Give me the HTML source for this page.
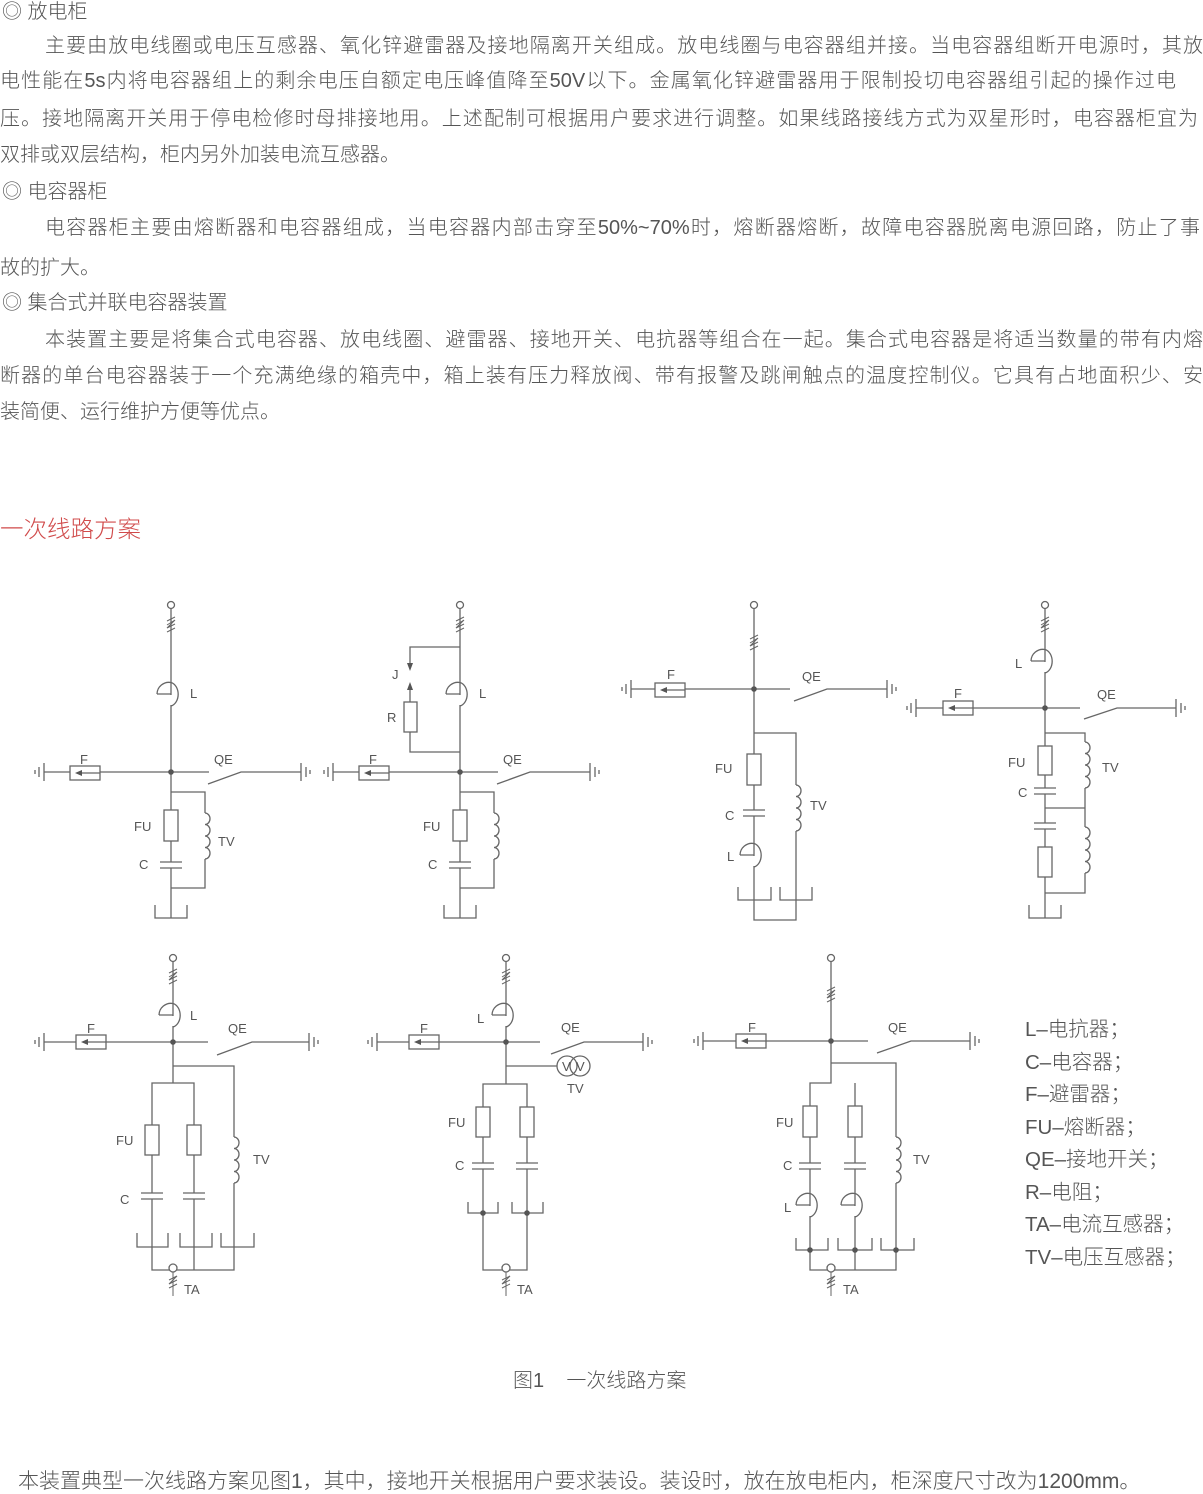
<!DOCTYPE html>
<html><head><meta charset="utf-8">
<style>
html,body{margin:0;padding:0;background:#fff;}
body{width:1203px;height:1493px;position:relative;overflow:hidden;font-family:"Liberation Sans","Noto Sans CJK SC",sans-serif;color:#555;}
.t{position:absolute;font-size:20px;line-height:24px;white-space:nowrap;font-weight:300;}
.j{text-align:justify;text-align-last:justify;white-space:normal;}
svg{position:absolute;left:0;top:0;}
svg text{font-family:"Liberation Sans",sans-serif;font-size:13px;fill:#555;stroke:none;}
</style></head><body>
<div class="t" style="left:2px;top:0px;">◎ 放电柜</div>
<div class="t j" style="left:45px;top:34px;width:1158px;">主要由放电线圈或电压互感器、氧化锌避雷器及接地隔离开关组成。放电线圈与电容器组并接。当电容器组断开电源时，其放</div>
<div class="t j" style="left:0px;top:69px;width:1176px;">电性能在5s内将电容器组上的剩余电压自额定电压峰值降至50V以下。金属氧化锌避雷器用于限制投切电容器组引起的操作过电</div>
<div class="t j" style="left:0px;top:107px;width:1198px;">压。接地隔离开关用于停电检修时母排接地用。上述配制可根据用户要求进行调整。如果线路接线方式为双星形时，电容器柜宜为</div>
<div class="t" style="left:0px;top:143px;">双排或双层结构，柜内另外加装电流互感器。</div>
<div class="t" style="left:2px;top:180px;">◎ 电容器柜</div>
<div class="t j" style="left:45px;top:216px;width:1155px;">电容器柜主要由熔断器和电容器组成，当电容器内部击穿至50%~70%时，熔断器熔断，故障电容器脱离电源回路，防止了事</div>
<div class="t" style="left:0px;top:256px;">故的扩大。</div>
<div class="t" style="left:2px;top:291px;">◎ 集合式并联电容器装置</div>
<div class="t j" style="left:45px;top:328px;width:1158px;">本装置主要是将集合式电容器、放电线圈、避雷器、接地开关、电抗器等组合在一起。集合式电容器是将适当数量的带有内熔</div>
<div class="t j" style="left:0px;top:364px;width:1203px;">断器的单台电容器装于一个充满绝缘的箱壳中，箱上装有压力释放阀、带有报警及跳闸触点的温度控制仪。它具有占地面积少、安</div>
<div class="t" style="left:0px;top:400px;">装简便、运行维护方便等优点。</div>
<div class="t" style="left:0px;top:515px;font-size:23.5px;line-height:28px;color:#d04a4a;">一次线路方案</div>
<div class="t" style="left:513px;top:1369px;font-size:20px;">图1&nbsp;&nbsp;&nbsp;&nbsp;一次线路方案</div>
<div class="t" style="left:18px;top:1470px;font-size:21px;">本装置典型一次线路方案见图1，其中，接地开关根据用户要求装设。装设时，放在放电柜内，柜深度尺寸改为1200mm。</div>
<div class="t" style="left:1025px;top:1014px;font-size:20.5px;line-height:32.5px;white-space:pre;">L–电抗器；
C–电容器；
F–避雷器；
FU–熔断器；
QE–接地开关；
R–电阻；
TA–电流互感器；
TV–电压互感器；</div>

<svg width="1203" height="1493" viewBox="0 0 1203 1493" fill="none" stroke="#666" stroke-width="1.3">
<defs>
<g id="gl"><path d="M0,-9V9M-5,-5V5M-9,-2V2"/></g>
<g id="gr"><path d="M0,-9V9M5,-5V5M9,-2V2"/></g>
<g id="zz"><path d="M-4,-3L4,-7M-4,1L4,-4L-4,4L4,0M-4,8L4,4" stroke-width="1"/></g>
<g id="L"><rect x="-2" y="13" width="4" height="10" fill="#fff" stroke="none"/><path d="M-14,12H0M-14,12A12,12 0 0 1 0,0.5A9,12 0 0 1 0,24"/></g>
<g id="cap"><rect x="-11" y="-3" width="22" height="6" fill="#fff" stroke="none"/><path d="M-11,-3H11M-11,3H11"/></g>
<g id="fbox"><rect x="0" y="-7" width="30" height="14" fill="#fff"/><path d="M9,0H30"/><polygon points="5,0 12,-3 12,3" fill="#555" stroke="none"/></g>
<g id="dot"><circle r="2.8" fill="#555" stroke="none"/></g>
<g id="top"><circle r="3.5" fill="#fff"/></g>
<g id="coil4"><rect x="-2" y="0" width="4" height="46" fill="#fff" stroke="none"/><path d="M0,0a5,5.75 0 0 1 0,11.5a5,5.75 0 0 1 0,11.5a5,5.75 0 0 1 0,11.5a5,5.75 0 0 1 0,11.5"/></g>
<g id="ta"><circle r="4" fill="#fff"/><path d="M0,4V28M-4,12L4,8L-4,16L4,12M-4,20L4,16" stroke-width="1"/></g>
</defs>

<!-- Circuit 1 -->
<path d="M171,608V918M44,772H209M208,784L241,772H301M171,792H205V888H171M155,905V918H187V905"/>
<use href="#top" x="171" y="605"/><use href="#zz" x="171" y="624"/><use href="#L" x="171" y="682"/>
<use href="#gl" x="44" y="772"/><use href="#fbox" x="70" y="773"/><use href="#gr" x="301" y="772"/><use href="#dot" x="171" y="772"/>
<rect x="164" y="810" width="14" height="31" fill="#fff"/><use href="#cap" x="171" y="865"/><use href="#coil4" x="205" y="813"/>
<text x="190" y="698">L</text><text x="80" y="764">F</text><text x="214" y="764">QE</text><text x="134" y="831">FU</text><text x="139" y="869">C</text><text x="218" y="846">TV</text>

<!-- Circuit 2 -->
<g transform="translate(289,0)">
<path d="M171,608V918M44,772H209M208,784L241,772H301M171,792H205V888H171M155,905V918H187V905"/>
<use href="#top" x="171" y="605"/><use href="#zz" x="171" y="624"/><use href="#L" x="171" y="682"/>
<use href="#gl" x="44" y="772"/><use href="#fbox" x="70" y="773"/><use href="#gr" x="301" y="772"/><use href="#dot" x="171" y="772"/>
<rect x="164" y="810" width="14" height="31" fill="#fff"/><use href="#cap" x="171" y="865"/><use href="#coil4" x="205" y="813"/>
<text x="190" y="698">L</text><text x="80" y="764">F</text><text x="214" y="764">QE</text><text x="134" y="831">FU</text><text x="139" y="869">C</text>
<path d="M171,647H121V664M121,702V690M121,732V752H171"/>
<polygon points="121,671 118,663 124,663" fill="#555" stroke="none"/>
<polygon points="121,682 118,690 124,690" fill="#555" stroke="none"/>
<rect x="115" y="702" width="13" height="30" fill="#fff"/>
<text x="103" y="679">J</text><text x="98" y="722">R</text>
</g>

<!-- Circuit 3 -->
<path d="M754,608V920H796V733H754M631,689H790M794,701L827,689H887M738,887V900H771V887M780,887V900H812V887"/>
<use href="#top" x="754" y="605"/><use href="#zz" x="754" y="642"/>
<use href="#gl" x="631" y="689"/><use href="#fbox" x="655" y="690"/><use href="#gr" x="887" y="689"/><use href="#dot" x="754" y="689"/>
<rect x="747" y="754" width="14" height="31" fill="#fff"/><use href="#cap" x="754" y="813"/><use href="#coil4" x="796" y="785"/><use href="#L" x="754" y="843"/>
<text x="667" y="679">F</text><text x="802" y="681">QE</text><text x="715" y="773">FU</text><text x="725" y="820">C</text><text x="727" y="861">L</text><text x="810" y="810">TV</text>

<!-- Circuit 4 -->
<path d="M1045,608V918M916,708H1080M1084,719L1117,708H1176M1045,733H1085V893H1045M1045,808H1085M1029,905V918H1061V905"/>
<use href="#top" x="1045" y="605"/><use href="#zz" x="1045" y="624"/><use href="#L" x="1045" y="649"/>
<use href="#gl" x="916" y="708"/><use href="#fbox" x="943" y="708"/><use href="#gr" x="1176" y="708"/><use href="#dot" x="1045" y="708"/>
<rect x="1038" y="746" width="14" height="29" fill="#fff"/><use href="#cap" x="1045" y="791"/>
<use href="#cap" x="1045" y="826"/><rect x="1038" y="847" width="14" height="30" fill="#fff"/>
<use href="#coil4" x="1085" y="742"/><use href="#coil4" x="1085" y="827"/>
<text x="1015" y="668">L</text><text x="954" y="698">F</text><text x="1097" y="699">QE</text><text x="1008" y="767">FU</text><text x="1018" y="797">C</text><text x="1102" y="772">TV</text>

<!-- Circuit 5 -->
<path d="M173,961V1083M44,1042H208M217,1055L252,1042H309M173,1066H234V1270H152V1083H194V1270M137,1233V1247H168V1233M180,1233V1247H212V1233M221,1233V1247H254V1233"/>
<use href="#top" x="173" y="958"/><use href="#zz" x="173" y="976"/><use href="#L" x="173" y="1003"/>
<use href="#gl" x="44" y="1042"/><use href="#fbox" x="76" y="1042"/><use href="#gr" x="309" y="1042"/><use href="#dot" x="173" y="1042"/>
<rect x="145" y="1125" width="14" height="30" fill="#fff"/><rect x="187" y="1125" width="14" height="30" fill="#fff"/>
<use href="#cap" x="152" y="1196"/><use href="#cap" x="194" y="1196"/><use href="#coil4" x="234" y="1137"/>
<use href="#ta" x="173" y="1268"/>
<text x="190" y="1020">L</text><text x="87" y="1033">F</text><text x="228" y="1033">QE</text><text x="116" y="1145">FU</text><text x="120" y="1204">C</text><text x="253" y="1164">TV</text><text x="184" y="1294">TA</text>

<!-- Circuit 6 -->
<path d="M506,961V1084H483V1270H527V1084H506M377,1042H540M551,1054L584,1042H643M506,1066H557M468,1202V1213H498V1202M512,1202V1213H543V1202"/>
<use href="#top" x="506" y="958"/><use href="#zz" x="506" y="976"/><use href="#L" x="506" y="1003"/>
<use href="#gl" x="377" y="1042"/><use href="#fbox" x="409" y="1042"/><use href="#gr" x="643" y="1042"/><use href="#dot" x="506" y="1042"/>
<circle cx="567" cy="1066" r="10" fill="#fff"/><circle cx="580" cy="1066" r="10"/>
<text x="562" y="1071">V</text><text x="576" y="1071">V</text>
<rect x="476" y="1107" width="14" height="30" fill="#fff"/><rect x="520" y="1107" width="14" height="30" fill="#fff"/>
<use href="#cap" x="483" y="1166"/><use href="#cap" x="527" y="1166"/>
<use href="#dot" x="483" y="1213"/><use href="#dot" x="527" y="1213"/>
<use href="#ta" x="506" y="1268"/>
<text x="477" y="1023">L</text><text x="420" y="1033">F</text><text x="561" y="1032">QE</text><text x="448" y="1127">FU</text><text x="455" y="1170">C</text><text x="567" y="1093">TV</text><text x="517" y="1294">TA</text>

<!-- Circuit 7 -->
<path d="M831,961V1083H810V1270H896V1063H831M855,1083V1270M703,1041H868M877,1053L911,1041H970M796,1238V1250H828V1238M838,1238V1250H872V1238M881,1238V1250H914V1238"/>
<use href="#top" x="831" y="958"/><use href="#zz" x="831" y="994"/>
<use href="#gl" x="703" y="1041"/><use href="#fbox" x="736" y="1041"/><use href="#gr" x="970" y="1041"/><use href="#dot" x="831" y="1041"/>
<rect x="803" y="1106" width="14" height="31" fill="#fff"/><rect x="848" y="1106" width="14" height="31" fill="#fff"/>
<use href="#cap" x="810" y="1166"/><use href="#cap" x="855" y="1166"/>
<use href="#L" x="810" y="1193"/><use href="#L" x="855" y="1193"/>
<use href="#coil4" x="896" y="1137"/>
<use href="#dot" x="810" y="1250"/><use href="#dot" x="855" y="1250"/><use href="#dot" x="896" y="1250"/>
<use href="#ta" x="831" y="1268"/>
<text x="748" y="1032">F</text><text x="888" y="1032">QE</text><text x="776" y="1127">FU</text><text x="783" y="1170">C</text><text x="784" y="1212">L</text><text x="913" y="1164">TV</text><text x="843" y="1294">TA</text>
</svg>
</body></html>
